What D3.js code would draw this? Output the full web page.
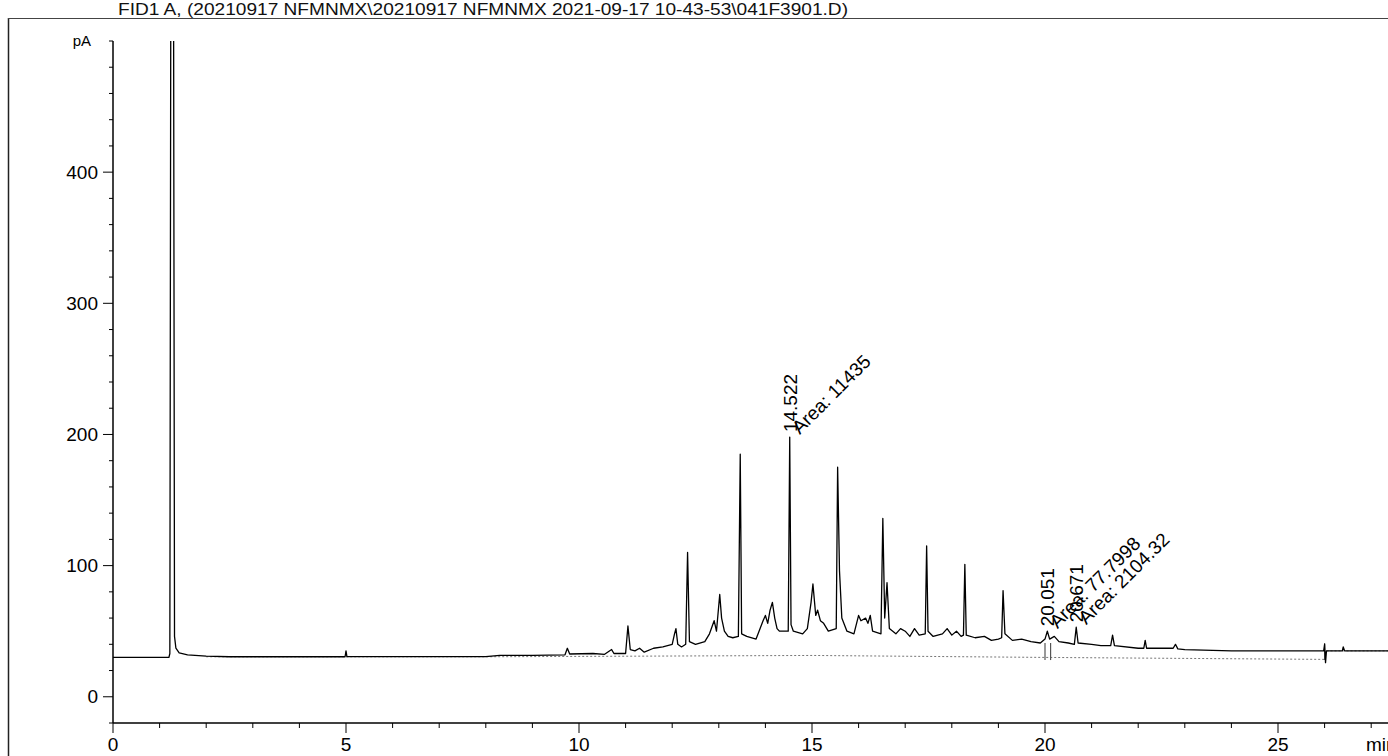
<!DOCTYPE html>
<html><head><meta charset="utf-8">
<script src="https://cdn.jsdelivr.net/npm/d3@7"></script>
<style>
html,body{margin:0;padding:0;background:#fff;}
svg{display:block;font-family:"Liberation Sans",Arial,sans-serif;}
</style></head>
<body>
<svg id="chart" width="1388" height="756"></svg>
<script>
// ---- data ----
const titleText = "FID1 A, (20210917 NFMNMX\\20210917 NFMNMX 2021-09-17 10-43-53\\041F3901.D)";
const yTickLabels = [0, 100, 200, 300, 400];
const xTickLabels = [0, 5, 10, 15, 20, 25];
// chromatogram signal: [time (min), signal (pA)]
const trace = [
 [0,30],[1.20,30],[1.22,33],[1.24,530],[1.30,530],[1.32,46],[1.35,37],[1.42,33.5],[1.6,32],[2.0,31],[2.5,30.5],
 [4.98,30.5],[5.0,35],[5.02,30.6],[8.0,30.6],[8.3,31.6],[9.0,31.6],[9.7,32],[9.75,37],[9.8,32.6],[10.3,33],[10.55,32.4],
 [10.7,36],[10.75,33],[11.0,33],[11.05,54],[11.1,36],[11.2,35],[11.3,37],[11.4,34],[11.6,37],[11.8,38],[12.0,40],
 [12.05,48],[12.08,52],[12.12,40],[12.2,38],[12.29,40],[12.33,110],[12.37,42],[12.5,40],[12.7,42],[12.8,48],[12.9,58],
 [12.95,50],[13.02,78],[13.06,60],[13.12,50],[13.2,46],[13.3,45],[13.42,46],[13.46,185],[13.49,48],[13.6,46],[13.8,44],
 [13.95,58],[14.0,62],[14.05,56],[14.1,66],[14.15,72],[14.2,60],[14.25,52],[14.3,50],[14.49,50],[14.522,198],[14.55,55],
 [14.6,50],[14.8,48],[14.9,52],[14.98,72],[15.02,86],[15.08,62],[15.12,66],[15.18,58],[15.25,56],[15.35,50],[15.52,52],
 [15.55,175],[15.59,96],[15.64,60],[15.75,50],[15.9,48],[16.0,62],[16.05,58],[16.15,60],[16.2,56],[16.25,62],[16.3,50],
 [16.48,48],[16.52,136],[16.56,60],[16.61,87],[16.66,52],[16.8,48],[16.9,52],[17.0,50],[17.1,46],[17.2,52],[17.3,47],
 [17.43,48],[17.46,115],[17.49,50],[17.6,46],[17.8,48],[17.9,52],[18.0,47],[18.1,50],[18.2,46],[18.25,47],[18.28,101],
 [18.31,47],[18.5,45],[18.7,46],[18.85,43],[19.0,44],[19.07,45],[19.1,81],[19.14,48],[19.3,43],[19.5,44],[19.7,42],
 [19.9,41],[20.0,44],[20.05,50],[20.1,44],[20.2,46],[20.3,42],[20.5,41],[20.63,40],[20.67,53],[20.71,41],[21.0,40],
 [21.2,39],[21.41,39],[21.45,47],[21.49,39],[22.0,37],[22.12,37],[22.15,43],[22.18,37],[22.75,37],[22.8,40],[22.85,36.5],
 [23.0,36],[24.0,35],[25.0,35],[25.98,35],[26.0,40],[26.02,26],[26.04,35],[26.38,35],[26.4,38],[26.43,35],[27.8,35]
];
// integrated baseline (drawn dotted): [time, pA]
const integBaseline = [[2.0,30.5],[8.0,30.5],[15.0,31.5],[20.0,30],[26.0,28.5],[26.02,35],[27.8,35]];
// integration event markers (min)
const eventMarks = [20.0, 20.12, 26.0];
// peak annotations
const peakRT = [14.522, 20.051, 20.671];
const peakArea = ["11435", "77.7998", "2104.32"];
const peakTop = [198, 50, 53];

// ---- scales ----
const svg = d3.select("#chart");
const x = d3.scaleLinear().domain([0, 25]).range([113, 1278]);
const y = d3.scaleLinear().domain([-20, 500]).range([723, 41]);

// frame
svg.append("line").attr("x1",8.5).attr("x2",8.5).attr("y1",18).attr("y2",756).attr("stroke","#222").attr("stroke-width",1.5);
svg.append("line").attr("x1",8).attr("x2",1388).attr("y1",18.5).attr("y2",18.5).attr("stroke","#444").attr("stroke-width",1);

// title
svg.append("text").attr("x",118).attr("y",15).attr("font-size",16)
  .attr("textLength",730).attr("lengthAdjust","spacingAndGlyphs").attr("fill","#111").text(titleText);

// clip for plot
svg.append("clipPath").attr("id","plotclip").append("rect")
  .attr("x",113).attr("y",41).attr("width",1388-113).attr("height",723-41);

// y axis
const yAxisG = svg.append("g").attr("transform","translate(113,0)");
yAxisG.append("line").attr("x1",0).attr("x2",0).attr("y1",y(-20)).attr("y2",y(500)).attr("stroke","#000").attr("stroke-width",1.5);
d3.range(-20, 501, 20).forEach(v => {
  const major = v % 100 === 0 && v !== 500;
  yAxisG.append("line").attr("x1", major ? -10 : -4).attr("x2",0).attr("y1",y(v)).attr("y2",y(v)).attr("stroke","#000").attr("stroke-width",1);
});
yAxisG.selectAll("text.yl").data(yTickLabels).join("text").attr("class","yl")
  .attr("x",-15).attr("y",d=>y(d)).attr("dy","0.35em").attr("text-anchor","end").attr("font-size",19).text(d=>d);
yAxisG.append("text").attr("x",-22).attr("y",y(500)).attr("dy","0.35em").attr("text-anchor","end").attr("font-size",15).text("pA");

// x axis
const xAxisG = svg.append("g").attr("transform",`translate(0,${y(-20)})`);
xAxisG.append("line").attr("x1",113).attr("x2",1388).attr("y1",0).attr("y2",0).attr("stroke","#000").attr("stroke-width",1.5);
d3.range(0, 28, 1).forEach(v => {
  const major = v % 5 === 0;
  xAxisG.append("line").attr("x1",x(v)).attr("x2",x(v)).attr("y1",0).attr("y2", major ? 10 : 5).attr("stroke","#000").attr("stroke-width",1);
});
xAxisG.selectAll("text.xl").data(xTickLabels).join("text").attr("class","xl")
  .attr("x",d=>x(d)).attr("y",28).attr("text-anchor","middle").attr("font-size",19).text(d=>d);
xAxisG.append("text").attr("x",1366).attr("y",28).attr("font-size",19).text("min");

const plot = svg.append("g").attr("clip-path","url(#plotclip)");
const line = d3.line().x(d=>x(d[0])).y(d=>y(d[1]));

// integration baseline (dotted grey)
plot.append("path").datum(integBaseline).attr("d",line).attr("fill","none")
  .attr("stroke","#777").attr("stroke-width",1).attr("stroke-dasharray","2,2");

// event markers
plot.selectAll("line.ev").data(eventMarks).join("line").attr("class","ev")
  .attr("x1",d=>x(d)).attr("x2",d=>x(d)).attr("y1",y(41)).attr("y2",y(28)).attr("stroke","#555").attr("stroke-width",1.2);

// signal
plot.append("path").datum(trace).attr("d",line).attr("fill","none")
  .attr("stroke","#000").attr("stroke-width",1.3).attr("stroke-linejoin","round");

// annotations
const ann = svg.append("g").attr("font-size",19).attr("fill","#000");
peakRT.forEach((rt, i) => {
  const px = x(rt), py = y(peakTop[i]) - 5;
  ann.append("text").attr("transform",`translate(${px+7},${py}) rotate(-90)`).text(rt.toFixed(3));
  ann.append("text").attr("transform",`translate(${px+10},${py+3}) rotate(-45)`).text("Area: " + peakArea[i]);
});
</script>
</body></html>
